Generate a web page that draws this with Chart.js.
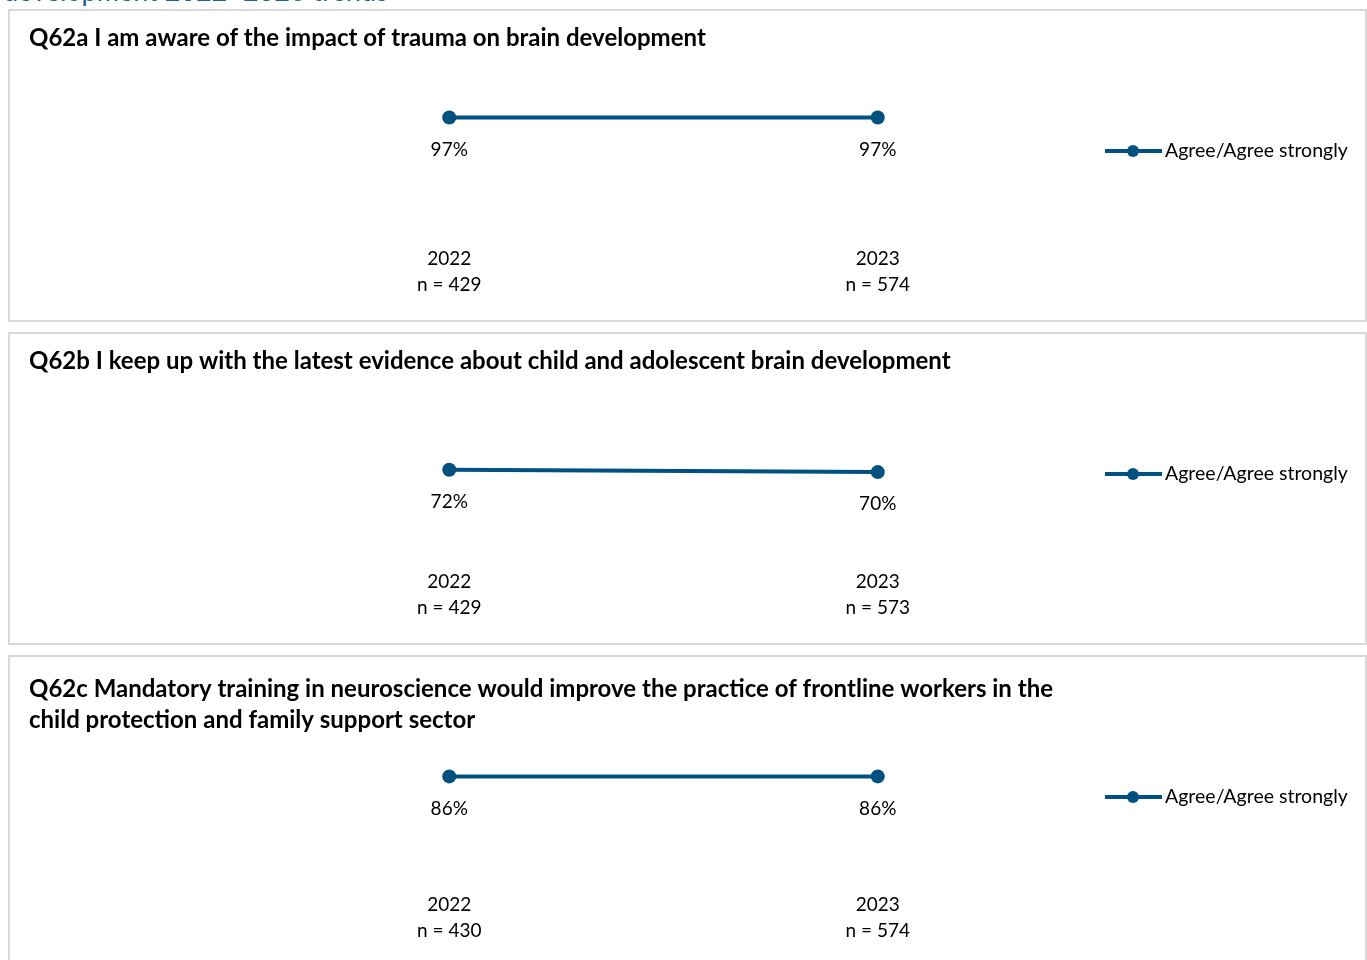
<!DOCTYPE html>
<html>
<head>
<meta charset="utf-8">
<script src="https://cdn.jsdelivr.net/npm/chart.js@4.4.1/dist/chart.umd.min.js"></script>
<style>
  body { margin: 0; background: #fff; width: 1367px; height: 960px; overflow: hidden; position: relative; font-family: Lato, sans-serif; }
  #heading { position: absolute; left: 3px; top: -26px; font-size: 27px; color: #1f5f8b; white-space: nowrap; }
  .panel { position: absolute; left: 8px; width: 1359px; height: 313px; border: 2px solid #d9d9d9; box-sizing: border-box; background: #fff; }
  .panel div { position: relative; width: 100%; height: 100%; }
</style>
</head>
<body>
<div id="heading">development 2022–2023 trends</div>
<div class="panel" style="top:9px"><div><canvas id="c0"></canvas></div></div>
<div class="panel" style="top:332px"><div><canvas id="c1"></canvas></div></div>
<div class="panel" style="top:655px"><div><canvas id="c2"></canvas></div></div>
<script>
const years = ["2022", "2023"];
const series_name = "Agree/Agree strongly";

const title_q62a = ["Q62a I am aware of the impact of trauma on brain development"];
const title_q62b = ["Q62b I keep up with the latest evidence about child and adolescent brain development"];
const title_q62c = ["Q62c Mandatory training in neuroscience would improve the practice of frontline workers in the",
                    "child protection and family support sector"];

const n_q62a = [429, 574];
const n_q62b = [429, 573];
const n_q62c = [430, 574];

const agree_q62a = [97, 97];
const agree_q62b = [72, 70];
const agree_q62c = [86, 86];

const blue = "#00517f";
const font = "Lato, 'Open Sans', sans-serif";

// title, value labels and the line+marker legend
const panelText = {
  id: "panelText",
  afterDatasetsDraw(chart, args, opts){
    const ctx = chart.ctx;
    ctx.save();
    ctx.fillStyle = "#000";
    ctx.textBaseline = "middle";

    ctx.textAlign = "left";
    ctx.font = "bold 24px " + font;
    opts.title.forEach((line, i)=>{
      ctx.fillText(line, 19, opts.titleY + i * 31);
    });

    ctx.font = "19px " + font;
    ctx.textAlign = "center";
    const vals = chart.data.datasets[0].data;
    chart.getDatasetMeta(0).data.forEach((pt, i)=>{
      ctx.fillText(vals[i] + "%", pt.x, pt.y + 32);
    });

    // legend
    const ly = 140;
    ctx.strokeStyle = blue;
    ctx.lineWidth = 4;
    ctx.beginPath();
    ctx.moveTo(1095, ly);
    ctx.lineTo(1152, ly);
    ctx.stroke();
    ctx.fillStyle = blue;
    ctx.beginPath();
    ctx.arc(1123, ly, 6, 0, Math.PI * 2);
    ctx.fill();
    ctx.fillStyle = "#000";
    ctx.textAlign = "left";
    ctx.font = "19.5px " + font;
    ctx.fillText(chart.data.datasets[0].label, 1155, ly);
    ctx.restore();
  }
};

const make_chart = (id, title, titleY, n, values)=>{
  const labels = years.map((y, i)=> [y, "n = " + n[i]]);
  return new Chart(document.getElementById(id), {
    type: "line",
    data: {
      labels: labels,
      datasets: [{
        label: series_name,
        data: values,
        borderColor: blue,
        backgroundColor: blue,
        borderWidth: 4,
        pointRadius: 7,
        pointBorderWidth: 0,
        pointBackgroundColor: blue,
        tension: 0,
        clip: false
      }]
    },
    options: {
      responsive: true,
      maintainAspectRatio: false,
      animation: false,
      layout: { padding: { top: 103, left: 225, right: 273, bottom: 7 } },
      plugins: {
        legend: { display: false },
        tooltip: { enabled: false },
        panelText: { title: title, titleY: titleY }
      },
      scales: {
        x: {
          offset: true,
          grid: { display: false, drawTicks: false },
          border: { display: false },
          ticks: { color: "#000", padding: 15, font: { family: font, size: 19, lineHeight: 26 / 19 } }
        },
        y: { display: false, min: 0, max: 100 }
      }
    },
    plugins: [panelText]
  });
};

make_chart("c0", title_q62a, 27, n_q62a, agree_q62a);
make_chart("c1", title_q62b, 27, n_q62b, agree_q62b);
make_chart("c2", title_q62c, 32, n_q62c, agree_q62c);
</script>
</body>
</html>
